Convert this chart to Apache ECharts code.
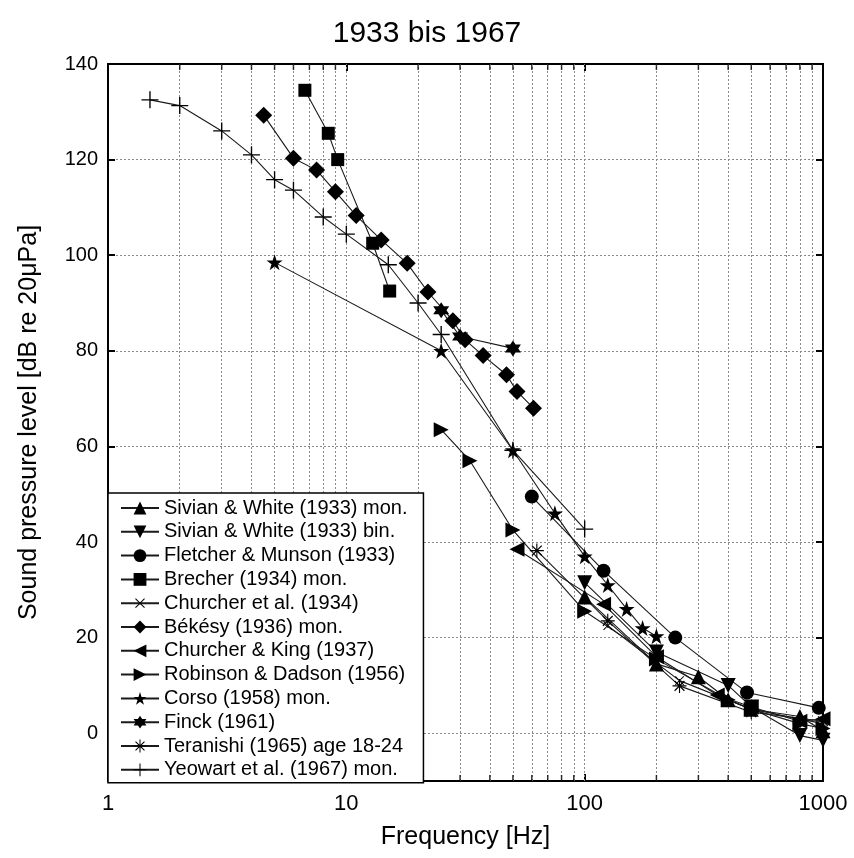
<!DOCTYPE html>
<html><head><meta charset="utf-8">
<script src="https://cdn.jsdelivr.net/npm/echarts@6/dist/echarts.min.js"></script>
<style>html,body{margin:0;padding:0;background:#fff}#c{width:854px;height:858px}</style>
</head><body><div id="c"></div>
<script>
// ---- data ----
const titleText = '1933 bis 1967';
const xName = 'Frequency [Hz]';
const yName = 'Sound pressure level [dB re 20\u03bcPa]';
const gridFreqs = [2,3,4,5,6,7,8,9,10,20,30,40,50,60,70,80,90,100,200,300,400,500,600,700,800,900];
const minorTickFreqs = [2,3,4,5,6,7,8,9,20,30,40,50,60,70,80,90,200,300,400,500,600,700,800,900];

const sivianMonFreq = [100, 200, 300, 400, 500, 800, 1000];
const sivianMonSpl  = [28.5, 14.5, 11.8, 7, 5, 3.5, 0.5];
const sivianBinFreq = [100, 200, 400, 500, 800, 1000];
const sivianBinSpl  = [31.5, 17, 10, 5.5, -0.5, -1.5];
const fletcherFreq = [60, 120, 240, 480, 960];
const fletcherSpl  = [49.5, 34, 20, 8.5, 5.3];
const brecherFreq = [6.7, 8.4, 9.2, 12.9, 15.2];
const brecherSpl  = [134.5, 125.5, 120, 102.5, 92.5];
const churcherFreq = [125, 250, 500, 1000];
const churcherSpl  = [22.5, 11, 5, 2];
const bekesyFreq = [4.5, 6, 7.5, 9, 11, 14, 18, 22, 28, 31.5, 37.5, 47, 52, 61];
const bekesySpl  = [129.3, 120.3, 117.8, 113.3, 108.3, 103.2, 98.3, 92.3, 86.3, 82.3, 79, 75, 71.5, 68];
const churcherKingFreq = [52, 120, 200, 360, 500, 800, 1000];
const churcherKingSpl  = [38.5, 27, 16, 8, 5.5, 2.5, 3];
const robinsonFreq = [25, 33, 50, 100, 200, 400, 500, 800, 1000];
const robinsonSpl  = [63.5, 57, 42.5, 25.5, 15.5, 7, 5, 2, 1];
const corsoFreq = [5, 25, 50, 75, 100, 125, 150, 175, 200];
const corsoSpl  = [98.5, 80, 59.2, 46, 37, 31, 26, 22, 20.3];
const finckFreq = [25, 30, 50];
const finckSpl  = [88.5, 83, 80.5];
const teranishiFreq = [63, 125, 250, 500, 1000];
const teranishiSpl  = [38.2, 23.5, 9.9, 4.4, 2.5];
const yeowartFreq = [1.5, 2, 3, 4, 5, 6, 8, 10, 15, 20, 25, 50, 100];
const yeowartSpl  = [132.5, 131.3, 126, 121, 115.8, 113.6, 108, 104.4, 98, 90, 83.4, 59.2, 42.7];

// ---- symbols ----
const STAR5 = 'path://M50,0L61.8,35.1L98.9,35.1L68.8,56.8L80.3,91.9L50,70.2L19.7,91.9L31.2,56.8L1.1,35.1L38.2,35.1Z';
const HEXA = 'path://M50,0L93.3,75L6.7,75ZM50,100L6.7,25L93.3,25Z';
const PLUS = 'path://M46,0H54V46H100V54H54V100H46V54H0V46H46Z';
const ASTER = 'path://M46,0H54V46H100V54H54V100H46V54H0V46H46ZM18,12L88,82L82,88L12,18ZM82,12L88,18L18,88L12,82Z';

const FONT = "'Liberation Sans', Arial, Helvetica, sans-serif";

function mk(name, fr, sp, symbol, size, rot) {
  return {
    name, type: 'line', data: fr.map((f, i) => [f, sp[i]]),
    symbol, symbolSize: size, symbolRotate: rot || 0, showSymbol: true,
    lineStyle: { color: '#1a1a1a', width: 1.1 },
    itemStyle: { color: '#000' },
    emphasis: { disabled: true }, animation: false, z: 3
  };
}

const series = [
  mk('Sivian & White (1933) mon.', sivianMonFreq, sivianMonSpl, 'triangle', 15),
  mk('Sivian & White (1933) bin.', sivianBinFreq, sivianBinSpl, 'triangle', 15, 180),
  mk('Fletcher & Munson (1933)', fletcherFreq, fletcherSpl, 'circle', 14),
  mk('Brecher (1934) mon.', brecherFreq, brecherSpl, 'rect', 13),
  mk('Churcher et al. (1934)', churcherFreq, churcherSpl, PLUS, 12, 45),
  mk('Békésy (1936) mon.', bekesyFreq, bekesySpl, 'diamond', 17),
  mk('Churcher & King (1937)', churcherKingFreq, churcherKingSpl, 'triangle', 15, 90),
  mk('Robinson & Dadson (1956)', robinsonFreq, robinsonSpl, 'triangle', 15, -90),
  mk('Corso (1958) mon.', corsoFreq, corsoSpl, STAR5, 16),
  mk('Finck (1961)', finckFreq, finckSpl, HEXA, 16),
  mk('Teranishi (1965) age 18-24', teranishiFreq, teranishiSpl, ASTER, 14),
  mk('Yeowart et al. (1967) mon.', yeowartFreq, yeowartSpl, PLUS, 17)
];
const legendNames = series.map(s => s.name);

series.push({
  type: 'line', data: [], silent: true, animation: false, z: 1,
  markLine: {
    silent: true, symbol: 'none', animation: false, z: 1,
    label: { show: false },
    lineStyle: { type: [2, 2], color: '#8a8a8a', width: 1 },
    data: gridFreqs.map(f => ({ xAxis: f }))
  }
});
series.push({
  type: 'scatter', silent: true, animation: false, z: 2,
  symbol: 'rect', symbolSize: [1.5, 6], symbolOffset: [0, -3],
  itemStyle: { color: '#000' },
  data: minorTickFreqs.map(f => [f, -10])
});
series.push({
  type: 'scatter', silent: true, animation: false, z: 2,
  symbol: 'rect', symbolSize: [1.5, 6], symbolOffset: [0, 3],
  itemStyle: { color: '#000' },
  data: minorTickFreqs.map(f => [f, 140])
});

const chart = echarts.init(document.getElementById('c'), null, { renderer: 'canvas' });
chart.setOption({
  backgroundColor: '#fff',
  animation: false,
  textStyle: { fontFamily: FONT },
  title: {
    text: titleText, left: 'center', top: 14,
    textStyle: { fontSize: 30, fontWeight: 'normal', color: '#000', fontFamily: FONT }
  },
  grid: { left: 108, top: 64, width: 715, height: 717, show: true, borderColor: '#000', borderWidth: 2, backgroundColor: 'transparent' },
  xAxis: [{
    type: 'log', logBase: 10, min: 1, max: 1000,
    name: xName, nameLocation: 'middle', nameGap: 44,
    nameTextStyle: { fontSize: 25, color: '#000', fontFamily: FONT },
    axisLine: { show: true, onZero: false, lineStyle: { color: '#000', width: 2 } },
    axisTick: { show: true, inside: true, length: 7, lineStyle: { color: '#000', width: 2 } },
    axisLabel: { fontSize: 22, color: '#000', margin: 12, fontFamily: FONT, formatter: v => String(v) },
    splitLine: { show: false }, minorTick: { show: false }
  }, {
    type: 'log', logBase: 10, min: 1, max: 1000, position: 'top',
    axisLine: { show: true, onZero: false, lineStyle: { color: '#000', width: 2 } },
    axisTick: { show: true, inside: true, length: 7, lineStyle: { color: '#000', width: 2 } },
    axisLabel: { show: false }, splitLine: { show: false }
  }],
  yAxis: [{
    type: 'value', min: -10, max: 140, splitNumber: 7,
    name: yName, nameLocation: 'middle', nameGap: 66,
    nameTextStyle: { fontSize: 25, color: '#000', fontFamily: FONT },
    axisLine: { show: true, onZero: false, lineStyle: { color: '#000', width: 2 } },
    axisTick: { show: true, inside: true, length: 7, lineStyle: { color: '#000', width: 2 } },
    axisLabel: { fontSize: 20, color: '#000', margin: 10, fontFamily: FONT,
      formatter: v => (v === -10 ? '' : String(v)) },
    splitLine: { show: true, lineStyle: { type: [2, 2], color: '#8a8a8a', width: 1 } }
  }, {
    type: 'value', min: -10, max: 140, splitNumber: 7, position: 'right',
    axisLine: { show: true, onZero: false, lineStyle: { color: '#000', width: 2 } },
    axisTick: { show: true, inside: true, length: 7, lineStyle: { color: '#000', width: 2 } },
    axisLabel: { show: false }, splitLine: { show: false }
  }],
  legend: {
    data: legendNames, orient: 'vertical', left: 108, top: 493, z: 10,
    backgroundColor: '#fff', borderColor: '#000', borderWidth: 1.5, borderRadius: 0,
    padding: [5, 16, 3, 12], itemGap: 3.8, itemWidth: 38, itemHeight: 16,
    selectedMode: false,
    textStyle: { fontSize: 20, lineHeight: 20, color: '#000', fontFamily: FONT }
  },
  series
});
</script></body></html>
